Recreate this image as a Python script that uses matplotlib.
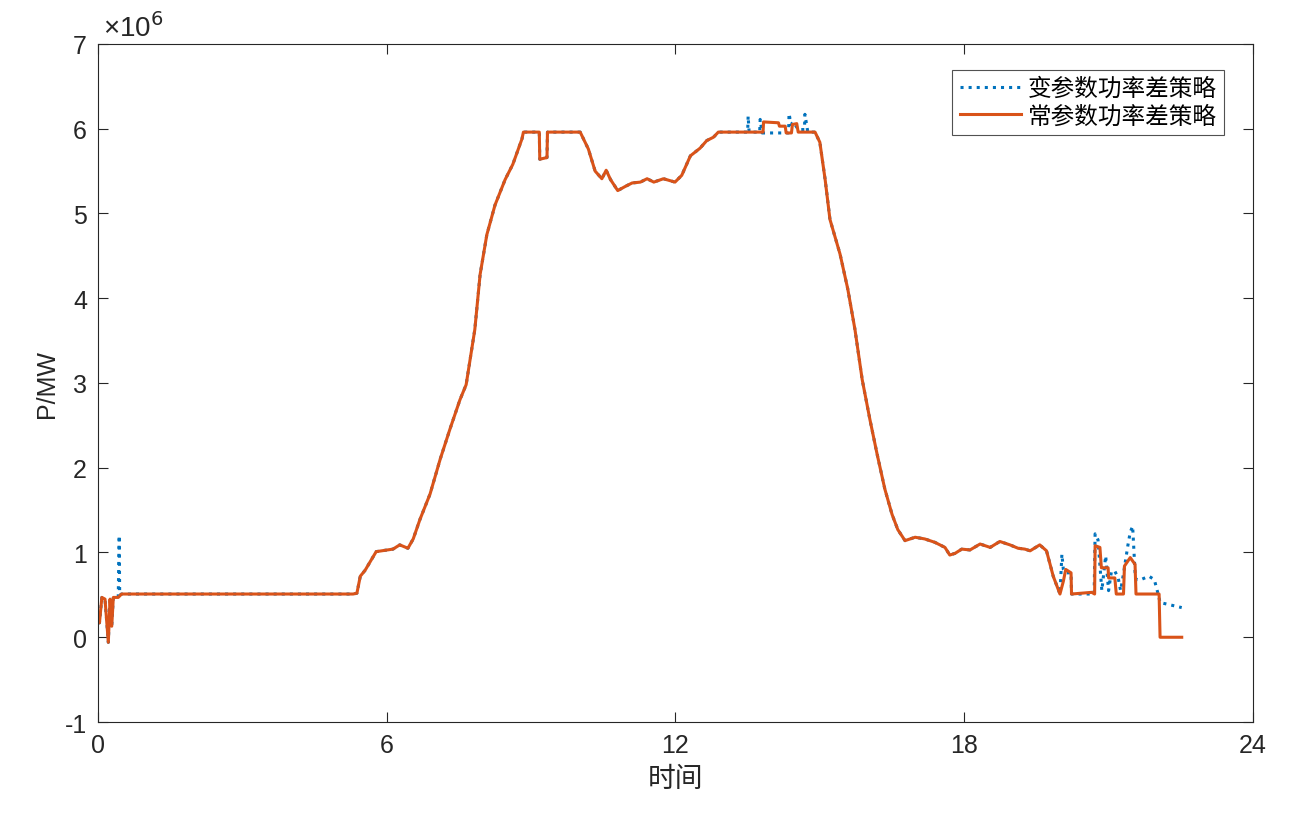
import numpy as np
import matplotlib.pyplot as plt

plt.rcParams['font.family'] = ['Liberation Sans', 'Noto Sans CJK SC', 'DejaVu Sans']
plt.rcParams['axes.unicode_minus'] = False

# 常参数功率差策略 (orange), time in hours, power in units of 1e6
t_const = [0.0, 0.03, 0.08, 0.145, 0.214, 0.25, 0.285, 0.318, 0.42, 0.49,
           5.3, 5.38, 5.45, 5.55, 5.78, 6.13, 6.27, 6.44, 6.55, 6.69,
           6.90, 7.11, 7.31, 7.52, 7.65, 7.83, 7.94, 8.08, 8.25, 8.46, 8.62, 8.81, 8.84,
           9.17, 9.18, 9.33, 9.34, 10.02, 10.19, 10.33, 10.47, 10.56, 10.65, 10.80,
           10.96, 11.10, 11.27, 11.41, 11.55, 11.75, 11.99, 12.13, 12.31, 12.51,
           12.65, 12.79, 12.89, 13.82, 13.83, 14.14, 14.16, 14.28, 14.30, 14.41,
           14.43, 14.52, 14.55, 14.90, 15.00, 15.11, 15.21, 15.42, 15.58, 15.73,
           15.88, 16.04, 16.19, 16.35, 16.50, 16.62, 16.77, 16.98, 17.18, 17.39,
           17.60, 17.70, 17.81, 17.95, 18.12, 18.33, 18.54, 18.74, 18.95, 19.12,
           19.26, 19.37, 19.57, 19.71, 19.85, 19.99, 20.06, 20.11, 20.22, 20.23,
           20.65, 20.71, 20.72, 20.82, 20.85, 20.86, 20.99, 21.00, 21.03, 21.13,
           21.16, 21.31, 21.33, 21.45, 21.55, 21.57, 22.05, 22.07, 22.52]
p_const = [0.17, 0.17, 0.47, 0.45, -0.06, 0.45, 0.13, 0.47, 0.47, 0.51,
           0.51, 0.52, 0.72, 0.79, 1.01, 1.04, 1.09, 1.05, 1.16, 1.39,
           1.69, 2.10, 2.45, 2.80, 2.98, 3.63, 4.28, 4.75, 5.10, 5.40, 5.58, 5.88, 5.96,
           5.96, 5.64, 5.66, 5.96, 5.96, 5.76, 5.50, 5.41, 5.51, 5.40, 5.27,
           5.32, 5.36, 5.37, 5.41, 5.37, 5.41, 5.37, 5.45, 5.68, 5.77,
           5.86, 5.90, 5.96, 5.96, 6.08, 6.07, 6.03, 6.03, 5.95, 5.95,
           6.05, 6.06, 5.96, 5.96, 5.84, 5.40, 4.93, 4.52, 4.11, 3.63,
           3.04, 2.57, 2.16, 1.75, 1.45, 1.27, 1.14, 1.18, 1.16, 1.12,
           1.06, 0.97, 0.99, 1.04, 1.03, 1.10, 1.06, 1.13, 1.09, 1.05,
           1.04, 1.02, 1.09, 1.02, 0.72, 0.51, 0.66, 0.80, 0.76, 0.51,
           0.53, 0.51, 1.08, 1.06, 0.82, 0.82, 0.82, 0.70, 0.70, 0.70,
           0.51, 0.51, 0.84, 0.94, 0.86, 0.51, 0.51, 0.0, 0.0]

# 变参数功率差策略 (blue) where it departs from the orange curve
t_var_a = [0.42, 0.44, 0.45, 0.49]
p_var_a = [0.47, 1.20, 0.50, 0.51]
t_var_b = [13.40, 13.50, 13.51, 13.53, 13.75, 13.76, 13.80, 14.28, 14.35, 14.36,
           14.40, 14.45, 14.55, 14.68, 14.69, 14.75, 14.90]
p_var_b = [5.96, 5.96, 6.15, 5.96, 5.96, 6.11, 5.95, 5.95, 5.95, 6.18,
           6.05, 6.08, 5.99, 5.99, 6.17, 5.96, 5.96]
t_var_c = [19.99, 20.03, 20.06, 20.11, 20.22, 20.23, 20.70, 20.72, 20.78, 20.86,
           20.94, 21.00, 21.06, 21.13, 21.20, 21.25, 21.31, 21.40, 21.45, 21.50,
           21.55, 21.57, 21.67, 21.84, 21.95, 22.03, 22.07, 22.52]
p_var_c = [0.51, 0.98, 0.80, 0.76, 0.76, 0.51, 0.51, 1.22, 1.15, 0.55,
           0.96, 0.55, 0.78, 0.78, 0.70, 0.55, 0.75, 1.08, 1.24, 1.31,
           0.77, 0.68, 0.68, 0.72, 0.68, 0.51, 0.41, 0.35]

tc = np.array(t_const)
pc = np.array(p_const)

def piece(lo, hi):
    m = (tc > lo) & (tc < hi)
    return list(tc[m]), list(pc[m])

pieces = [(list(tc[tc < 0.42]), list(pc[tc < 0.42])), (t_var_a, p_var_a),
          piece(0.49, 13.40), (t_var_b, p_var_b), piece(14.90, 19.99),
          (t_var_c, p_var_c)]
t_var = sum([p[0] for p in pieces], [])
p_var = sum([p[1] for p in pieces], [])

fig = plt.figure(figsize=(13, 8.28), dpi=100)
ax = fig.add_axes([0.0754, 0.1268, 0.8884, 0.8189])

ax.plot(t_var, p_var, color='#0072BD', linestyle=':', linewidth=2.2, label='变参数功率差策略')
ax.plot(t_const, p_const, color='#D95319', linewidth=2.2, label='常参数功率差策略')

ax.set_xlim(0, 24)
ax.set_ylim(-1, 7)
ax.set_xticks([0, 6, 12, 18, 24])
ax.set_yticks(range(-1, 8))
ax.tick_params(direction='in', top=True, right=True, length=7, width=0.8,
               labelsize=18, colors='#262626', pad=8)
for s in ax.spines.values():
    s.set_color('#262626')
    s.set_linewidth(0.8)

ax.set_ylabel('P/MW', fontsize=18, color='#262626', labelpad=4)
ax.set_xlabel('时间', fontsize=20, color='#262626',
              family=['Noto Sans CJK SC', 'DejaVu Sans'])
ax.text(0.004, 1.003, '×10$^6$', transform=ax.transAxes, fontsize=20,
        color='#262626', ha='left', va='bottom')

leg = ax.legend(loc='upper right', bbox_to_anchor=(0.975, 0.962),
                prop={'family': ['Noto Sans CJK SC', 'DejaVu Sans'], 'size': 17},
                fancybox=False, edgecolor='#262626', handlelength=2.6,
                handletextpad=0.3, borderpad=0.3, labelspacing=0.2, borderaxespad=0)
leg.get_frame().set_linewidth(0.8)

fig.savefig('out.png', dpi=100)
